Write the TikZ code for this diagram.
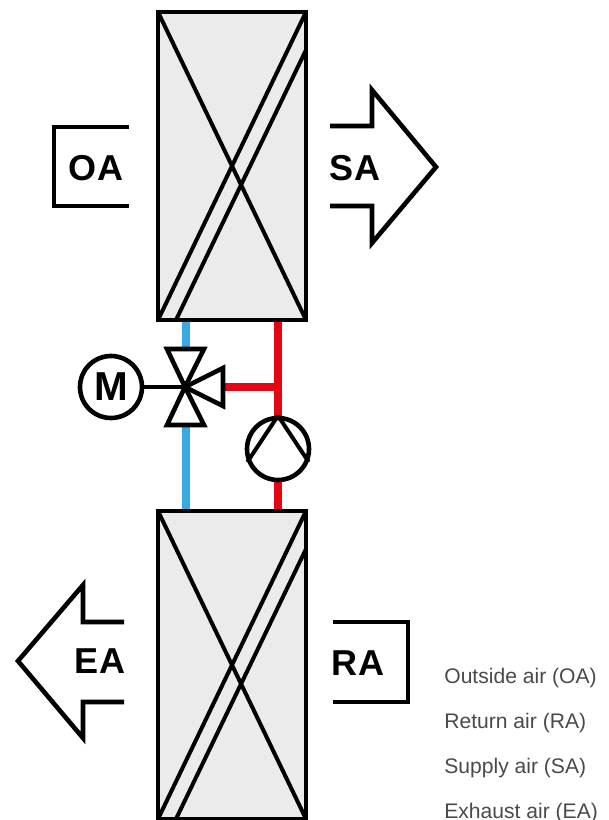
\documentclass[tikz,border=0pt]{standalone}
\usepackage{fontspec}
\setmainfont{Liberation Sans}
\definecolor{hotred}{HTML}{E30613}
\definecolor{coldblue}{HTML}{38A9E1}
\definecolor{boxgray}{HTML}{EBEBEB}
\definecolor{legendgray}{HTML}{4A4A4A}
\tikzset{
	line/.style={line width=.92mm,line join=miter},
	thinline/.style={line width=.8mm},
	pipe/.style={line width=1.6mm},
	airlabel/.style={font=\fontsize{20.5}{21}\selectfont\bfseries,inner sep=0pt},
	legend/.style={font=\fontsize{12}{12}\selectfont,text=legendgray,anchor=base west,inner sep=0pt},
	exchanger/.pic={
		\draw[line,fill=boxgray] (0,0) rectangle (148,308);
		\draw[thinline] (0,0) -- (148,308);
		\draw[thinline] (148,0) -- (0,308);
		\draw[thinline] (148,38) -- (18,308);
	}
}
\begin{document}
\begin{tikzpicture}[x=.2mm,y=-.2mm]
	\useasboundingbox (0,0) rectangle (609,820);
	% pipes
	\coordinate (coldtop) at (186,320);
	\coordinate (coldbot) at (186,511);
	\coordinate (hottop) at (278,320);
	\coordinate (hotbot) at (278,511);
	\coordinate (valve) at (185,387);
	\coordinate (tee) at (278,387);
	\draw[pipe,coldblue] (coldtop) -- (coldbot);
	\draw[pipe,hotred] (hottop) -- (hotbot);
	\draw[pipe,hotred] (valve) -- (tee);
	% exchangers
	\pic at (158,12) {exchanger};
	\begin{scope}
		\clip (0,0) rectangle (609,820);
		\pic at (158,511) {exchanger};
	\end{scope}
	% valve
	\draw[line,fill=white] (valve) -- (167,349) -- (204,349) -- cycle;
	\draw[line,fill=white] (valve) -- (167,425) -- (204,425) -- cycle;
	\draw[line,fill=white] (valve) -- (223,368) -- (223,406) -- cycle;
	% motor
	\node[circle,draw,line,minimum size=62*.2mm,inner sep=0pt,font=\fontsize{23}{23}\selectfont\bfseries] (motor) at (111,387) {M};
	\draw[line] (motor) -- (valve);
	% pump
	\node[circle,draw,line,fill=white,minimum size=62*.2mm,inner sep=0pt] (pump) at (278,449) {};
	\draw[thinline] (pump.north) -- (pump.203);
	\draw[thinline] (pump.north) -- (pump.-23);
	% air arrows
	\draw[line] (129,127) -- (54,127) -- (54,206) -- (129,206);
	\node[airlabel] (oa) at (96,168) {OA};
	\draw[line] (330,126) -- (372,126) -- (372,90) -- (436,167) -- (372,243) -- (372,206) -- (330,206);
	\node[airlabel] (sa) at (355,168) {SA};
	\draw[line] (124,622) -- (83,622) -- (83,585) -- (18,661) -- (83,738) -- (83,702) -- (124,702);
	\node[airlabel] (ea) at (100,661) {EA};
	\draw[line] (333,622) -- (408,622) -- (408,702) -- (333,702);
	\node[airlabel] (ra) at (358,663) {RA};
	% legend
	\node[legend] (l1) at (444,683) {Outside air (OA)};
	\node[legend] (l2) at (444,728) {Return air (RA)};
	\node[legend] (l3) at (444,773) {Supply air (SA)};
	\node[legend] (l4) at (444,818) {Exhaust air (EA)};
\end{tikzpicture}
\end{document}
